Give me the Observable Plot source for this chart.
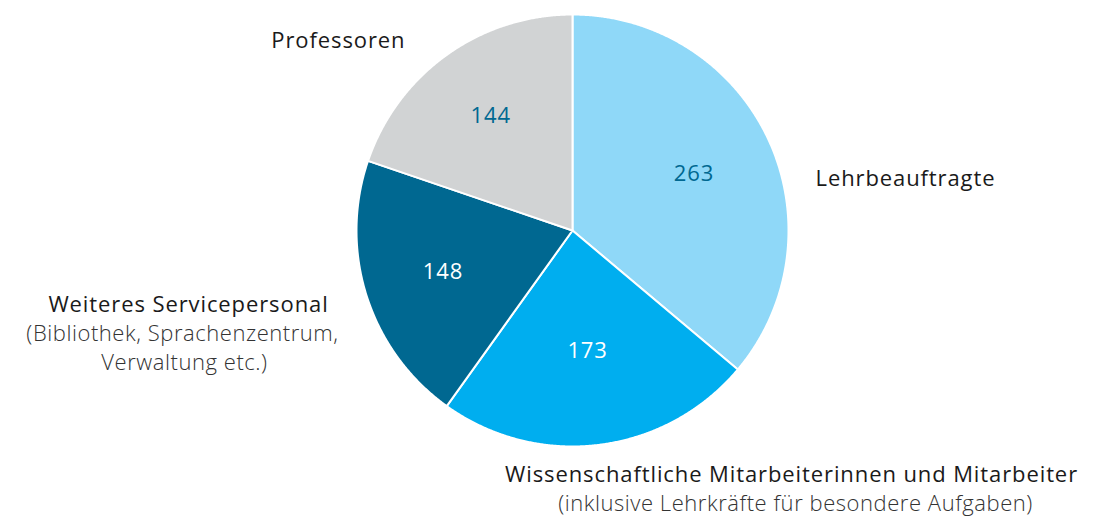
<!DOCTYPE html>
<html>
<head>
<meta charset="utf-8">
<script src="https://cdn.jsdelivr.net/npm/d3@7"></script>
<script src="https://cdn.jsdelivr.net/npm/@observablehq/plot@0.6"></script>
<style>
  html, body { margin: 0; padding: 0; background: #fff; }
  #chart svg { display: block; }
  #chart text { letter-spacing: 0.9px; }
  #chart g.sub text { font-weight: 300; letter-spacing: 0.55px; }
</style>
</head>
<body>
<div id="chart"></div>
<script>
const categories = ["Lehrbeauftragte", "Wissenschaftliche Mitarbeiterinnen und Mitarbeiter", "Weiteres Servicepersonal", "Professoren"];
const values = [263, 173, 148, 144];
const colors = ["#8fd8f8", "#00aeef", "#006891", "#d1d3d4"];
const valueColors = ["#006891", "#ffffff", "#ffffff", "#006891"];
const subtitles = ["", "(inklusive Lehrkräfte für besondere Aufgaben)", "(Bibliothek, Sprachenzentrum,|Verwaltung etc.)", ""];

const W = 1100, H = 517;
const cx = 572, cy = 230, R = 216;
const toX = p => (p - cx) / R;
const toY = p => (cy - p) / R;

const slices = d3.pie().sort(null).value(d => d.value)(categories.map((c, i) => ({cat: c, value: values[i], i})));

const polyPts = [];
slices.forEach(s => {
  const n = Math.max(2, Math.ceil((s.endAngle - s.startAngle) / 0.005));
  polyPts.push({cat: s.data.cat, x: 0, y: 0});
  for (let k = 0; k <= n; k++) {
    const a = s.startAngle + (s.endAngle - s.startAngle) * k / n;
    polyPts.push({cat: s.data.cat, x: Math.sin(a), y: Math.cos(a)});
  }
});

// label radius (fraction of pie radius) per slice, layout only
const labelRadius = [0.62, 0.56, 0.63, 0.65];
const valueLabels = slices.map(s => {
  const a = (s.startAngle + s.endAngle) / 2;
  const r = labelRadius[s.data.i];
  return {x: r * Math.sin(a), y: r * Math.cos(a), text: String(s.data.value), color: valueColors[s.data.i]};
});

// outer label layout (pixel anchors)
const mainLabels = [
  {x: toX(815), y: toY(178), text: categories[0], anchor: "start"},
  {x: toX(791), y: toY(474), text: categories[1], anchor: "middle"},
  {x: toX(188), y: toY(304), text: categories[2], anchor: "middle"},
  {x: toX(405), y: toY(40), text: categories[3], anchor: "end"}
];
const subLabels = [
  {x: toX(795), y: toY(503), text: subtitles[1]},
  {x: toX(182), y: toY(333), text: subtitles[2].split("|")[0]},
  {x: toX(184), y: toY(362), text: subtitles[2].split("|")[1]}
];

const font = "'Open Sans', sans-serif";

const plot = Plot.plot({
  width: W,
  height: H,
  marginLeft: cx - R,
  marginRight: W - (cx + R),
  marginTop: cy - R,
  marginBottom: H - (cy + R),
  x: {domain: [-1, 1], axis: null},
  y: {domain: [-1, 1], axis: null},
  color: {domain: categories, range: colors},
  style: {fontFamily: font, background: "#fff"},
  marks: [
    Plot.line(polyPts, {x: "x", y: "y", z: "cat", fill: "cat", stroke: "#fff", strokeWidth: 2, curve: "linear-closed", strokeLinejoin: "round"}),
    Plot.text(valueLabels, {x: "x", y: "y", text: "text", fill: "color", fontSize: 22}),
    ...["start", "middle", "end"].map(anc => Plot.text(mainLabels.filter(d => d.anchor === anc), {
      x: "x", y: "y", text: "text", fill: "#1a1a1a", fontSize: 22, textAnchor: anc
    })),
    Plot.text(subLabels, {x: "x", y: "y", text: "text", fill: "#333", fontSize: 22, className: "sub"})
  ]
});
document.getElementById("chart").appendChild(plot);
</script>
</body>
</html>
